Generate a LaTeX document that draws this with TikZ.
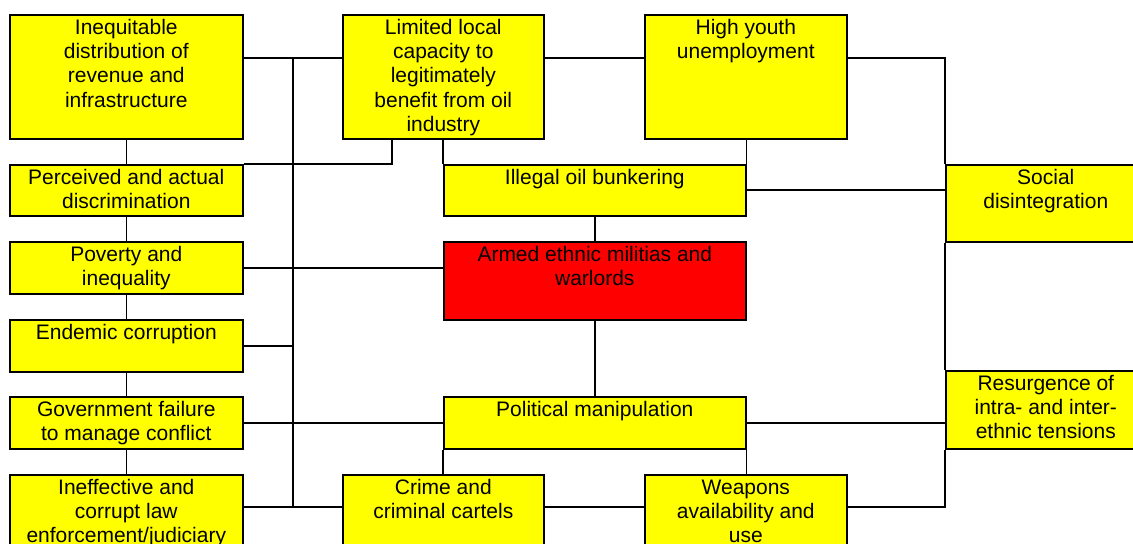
\documentclass[tikz,border=0pt]{standalone}
\usepackage{fontspec}
\setmainfont{Liberation Sans}
\usetikzlibrary{calc}
\definecolor{boxyellow}{RGB}{255,255,0}
\definecolor{boxred}{RGB}{255,0,0}
% top-aligned, centred box text of a fixed width and height
\newcommand\bxt[3]{\parbox[t][#2][t]{#1}{\centering\fontsize{21bp}{24.3bp}\selectfont\rule{0pt}{19.5bp}#3}}
\begin{document}
\begin{tikzpicture}[x=1bp,y=-1bp,
  box/.style={draw=black, line width=1.6bp, fill=boxyellow, inner sep=0pt, anchor=north west},
  redbox/.style={box, fill=boxred},
  link/.style={draw=black, line width=1.6bp}]
\useasboundingbox (0,0) rectangle (1133,544);
\clip (0,0) rectangle (1133,544);
\fill[white] (0,0) rectangle (1133,544);

% left column
\node[box] (ineq) at (9,14) {\bxt{233bp}{124bp}{Inequitable\\distribution of\\revenue and\\infrastructure}};
\node[box] (perc) at (9,164) {\bxt{233bp}{51bp}{Perceived and actual\\discrimination}};
\node[box] (pov) at (9,241) {\bxt{233bp}{52bp}{Poverty and\\inequality}};
\node[box] (endem) at (9,319) {\bxt{233bp}{52bp}{Endemic corruption}};
\node[box] (gov) at (9,396) {\bxt{233bp}{52bp}{Government failure\\to manage conflict}};
\node[box] (ineff) at (9,474) {\bxt{233bp}{124bp}{Ineffective and\\corrupt law\\enforcement/judiciary}};

% top row
\node[box] (limited) at (342,14) {\bxt{201bp}{124bp}{Limited local\\capacity to\\legitimately\\benefit from oil\\industry}};
\node[box] (youth) at (644,14) {\bxt{202bp}{124bp}{High youth\\unemployment}};

% centre column
\node[box] (illegal) at (443,164) {\bxt{302bp}{51bp}{Illegal oil bunkering}};
\node[redbox] (armed) at (443,241) {\bxt{302bp}{78bp}{Armed ethnic militias and\\warlords}};
\node[box] (polit) at (443,396) {\bxt{302bp}{52bp}{Political manipulation}};

% bottom row
\node[box] (crime) at (342,474) {\bxt{201bp}{124bp}{Crime and\\criminal cartels}};
\node[box] (weap) at (644,474) {\bxt{202bp}{124bp}{Weapons\\availability and\\use}};

% right column
\node[box] (social) at (945,164) {\bxt{200bp}{77bp}{Social\\disintegration}};
\node[box] (resurg) at (945,370) {\bxt{200bp}{78bp}{Resurgence of\\intra- and inter-\\ethnic tensions}};

% vertical bus between left column and centre
\coordinate (bustop) at ($(ineq.north east)!0.5!(limited.north west)+(0,44)$);
\coordinate (busbot) at ($(ineff.north east)!0.5!(crime.north west)+(0,33)$);
\draw[link] (bustop) -- (busbot);

% top row links
\draw[link] ($(ineq.north east)+(0,44)$) -- ($(limited.north west)+(0,44)$);
\draw[link] ($(limited.north east)+(0,44)$) -- ($(youth.north west)+(0,44)$);
\draw[link] ($(youth.north east)+(0,44)$) -| (social.north west);
\draw[link] (social.south west) -- (resurg.north west);
\draw[link] (resurg.south west) |- ($(weap.north east)+(0,33)$);

% left column chain
\draw[link] (ineq.south) -- (perc.north);
\draw[link] (perc.south) -- (pov.north);
\draw[link] (pov.south) -- (endem.north);
\draw[link] (endem.south) -- (gov.north);
\draw[link] (gov.south) -- (ineff.north);

% links into the centre
\draw[link] ($(limited.south west)+(50,0)$) |- (perc.north east);
\draw[link] (illegal.north west |- limited.south) -- (illegal.north west);
\draw[link] (youth.south -| illegal.north east) -- (illegal.north east);
\draw[link] (illegal.east) -- (illegal.east -| social.west);
\draw[link] (illegal.south) -- (armed.north);
\draw[link] (pov.east) -- (pov.east -| armed.west);
\draw[link] (endem.east) -- (endem.east -| bustop);
\draw[link] ($(armed.south east)+(0,-26)$) -- ($(armed.south east)+(0,-26)$ -| social.west);
\draw[link] (armed.south) -- (polit.north);
\draw[link] (gov.east) -- (polit.west);
\draw[link] (polit.east) -- (polit.east -| resurg.west);
\draw[link] (polit.south west) -- (polit.south west |- crime.north);
\draw[link] (polit.south east) -- (polit.south east |- weap.north);

% bottom row links
\draw[link] ($(ineff.north east)+(0,33)$) -- ($(crime.north west)+(0,33)$);
\draw[link] ($(crime.north east)+(0,33)$) -- ($(weap.north west)+(0,33)$);
\end{tikzpicture}
\end{document}
